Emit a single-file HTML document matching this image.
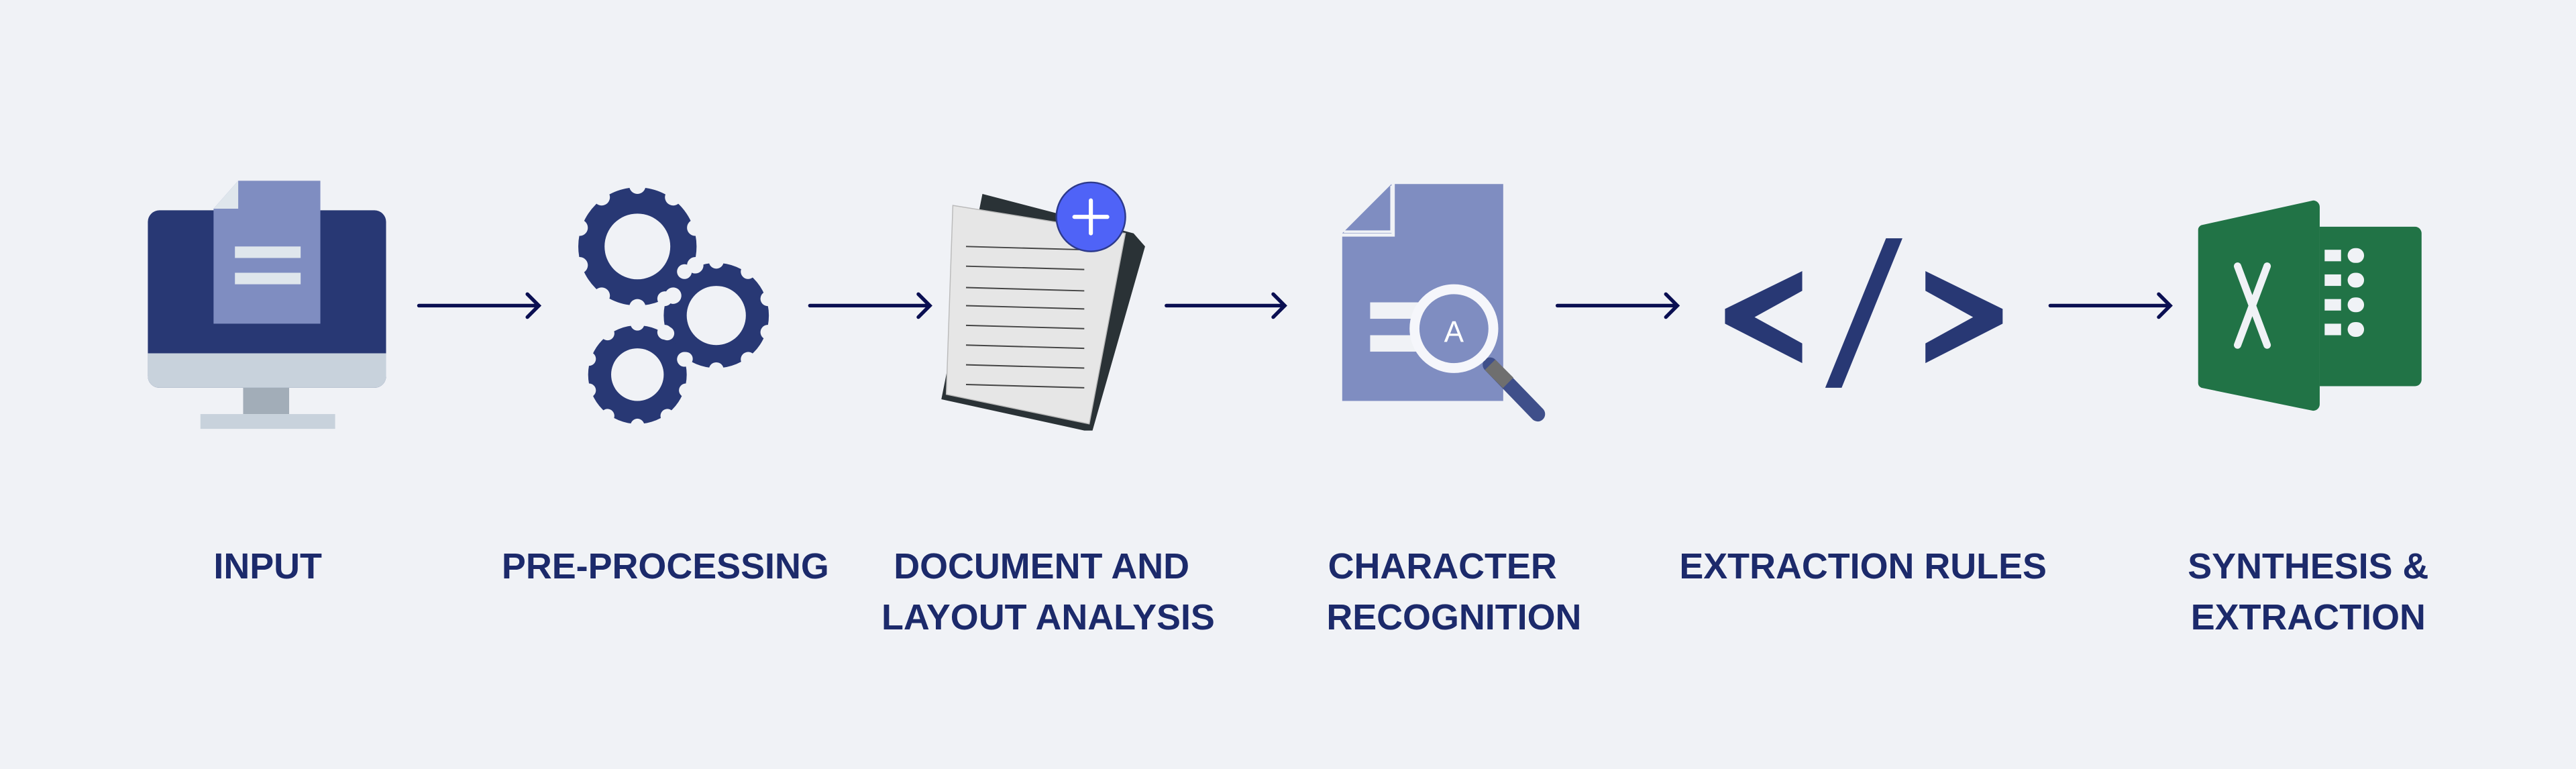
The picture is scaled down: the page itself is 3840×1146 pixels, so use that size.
<!DOCTYPE html>
<html><head><meta charset="utf-8"><style>
html,body{margin:0;padding:0;background:#f0f2f6;}
svg{display:block;}
</style></head><body>
<svg width="3840" height="1146" viewBox="0 0 1568 468" preserveAspectRatio="none" xmlns="http://www.w3.org/2000/svg">
<rect width="1568" height="468" fill="#f0f2f6"/>
<rect x="90" y="128" width="145" height="108" rx="7" fill="#283874"/>
<path d="M90 215 H235 V229 a7 7 0 0 1 -7 7 H97 a7 7 0 0 1 -7 -7 Z" fill="#c8d2dc"/>
<rect x="148" y="236" width="28" height="16" fill="#a2adb8"/>
<rect x="122" y="252" width="82" height="9" fill="#c8d2dc"/>
<path d="M145 110 H195 V197 H130 V127 Z" fill="#7f8dc1"/>
<path d="M145 110 V127 H130 Z" fill="#dfe6ec"/>
<rect x="143" y="150" width="40" height="7" fill="#dfe6ec"/>
<rect x="143" y="166" width="40" height="7" fill="#dfe6ec"/>
<g stroke="#0a0f52" stroke-width="2.2" fill="none" stroke-linecap="round">
<path d="M255 186 H328 M321 179 L328 186 L321 193"/>
<path d="M493 186 H566 M559 179 L566 186 L559 193"/>
<path d="M710 186 H782 M775 179 L782 186 L775 193"/>
<path d="M948 186 H1021 M1014 179 L1021 186 L1014 193"/>
<path d="M1248 186 H1321 M1314 179 L1321 186 L1314 193"/>
</g>
<g fill="#283874">
<circle cx="388" cy="150" r="36"/>
<circle cx="436" cy="192" r="32"/>
<circle cx="388" cy="228" r="30"/>
</g>
<g fill="#f0f2f6">
<g transform="translate(388,150)">
<circle r="20"/>
<g id="n1"><circle cx="0" cy="-37" r="5"/></g>
<use href="#n1" transform="rotate(36)"/><use href="#n1" transform="rotate(72)"/><use href="#n1" transform="rotate(108)"/><use href="#n1" transform="rotate(144)"/><use href="#n1" transform="rotate(180)"/><use href="#n1" transform="rotate(216)"/><use href="#n1" transform="rotate(252)"/><use href="#n1" transform="rotate(288)"/><use href="#n1" transform="rotate(324)"/>
</g>
<g transform="translate(436,192)">
<circle r="18"/>
<g id="n2"><circle cx="0" cy="-33" r="4.5"/></g>
<use href="#n2" transform="rotate(36)"/><use href="#n2" transform="rotate(72)"/><use href="#n2" transform="rotate(108)"/><use href="#n2" transform="rotate(144)"/><use href="#n2" transform="rotate(180)"/><use href="#n2" transform="rotate(216)"/><use href="#n2" transform="rotate(252)"/><use href="#n2" transform="rotate(288)"/><use href="#n2" transform="rotate(324)"/>
</g>
<g transform="translate(388,228)">
<circle r="16"/>
<g id="n3"><circle cx="0" cy="-31" r="4.2"/></g>
<use href="#n3" transform="rotate(36)"/><use href="#n3" transform="rotate(72)"/><use href="#n3" transform="rotate(108)"/><use href="#n3" transform="rotate(144)"/><use href="#n3" transform="rotate(180)"/><use href="#n3" transform="rotate(216)"/><use href="#n3" transform="rotate(252)"/><use href="#n3" transform="rotate(288)"/><use href="#n3" transform="rotate(324)"/>
</g>
</g>
<path d="M598 118 L690 142 L697 150 L665 262 L660 262 L573 243 Z" fill="#2a3236"/>
<path d="M580 125 L685 142 L663 258 L576 240 Z" fill="#e6e6e6" stroke="#bbb" stroke-width="0.6"/>
<g stroke="#444" stroke-width="0.8">
<line x1="588" y1="150" x2="660" y2="152"/><line x1="588" y1="162" x2="660" y2="164"/><line x1="588" y1="175" x2="660" y2="177"/><line x1="588" y1="186" x2="660" y2="188"/><line x1="588" y1="198" x2="660" y2="200"/><line x1="588" y1="210" x2="660" y2="212"/><line x1="588" y1="222" x2="660" y2="224"/><line x1="588" y1="234" x2="660" y2="236"/>
</g>
<circle cx="664" cy="132" r="21" fill="#4f63f7" stroke="#2d3a8c" stroke-width="1"/>
<path d="M654 132 H674 M664 122 V142" stroke="#fff" stroke-width="2.5" stroke-linecap="round"/>
<path d="M849 112 H915 V244 H817 V144 H849 Z" fill="#7f8dc1"/>
<path d="M817 142 L847 112 V142 Z" fill="#7f8dc1"/>
<path d="M847 113 V141 H818" stroke="#f0f2f6" stroke-width="1.5" fill="none"/>
<rect x="834" y="184" width="38" height="10" fill="#f0f2f6"/>
<rect x="834" y="204" width="38" height="10" fill="#f0f2f6"/>
<path d="M907 222 L936 252" stroke="#3f4f8a" stroke-width="9" stroke-linecap="round"/>
<path d="M907 222 L918 233" stroke="#6f6f6f" stroke-width="9"/>
<circle cx="885" cy="200" r="24" fill="#7f8dc1" stroke="#f5f6fb" stroke-width="6"/>
<text x="885" y="208" font-family="Liberation Sans, sans-serif" font-size="18" fill="#fff" text-anchor="middle">A</text>
<path d="M1097 165 V177 L1068 193 L1097 209 V221 L1050 197 V188 Z" fill="#283874"/>
<path d="M1172 165 V177 L1201 193 L1172 209 V221 L1219 197 V188 Z" fill="#283874"/>
<path d="M1148 145 H1158 L1121 236 H1111 Z" fill="#283874"/>
<path d="M1412 138 H1470 a4 4 0 0 1 4 4 V231 a4 4 0 0 1 -4 4 H1412 Z" fill="#217346"/>
<path d="M1340 137 L1408 122 a4 4 0 0 1 4 4 V246 a4 4 0 0 1 -4 4 L1340 236 a3 3 0 0 1 -2 -3 V140 a3 3 0 0 1 2 -3 Z" fill="#217346"/>
<g fill="#f0f2f6">
<rect x="1415" y="152" width="10" height="7"/><rect x="1429" y="151" width="10" height="9" rx="4.5"/>
<rect x="1415" y="167" width="10" height="7"/><rect x="1429" y="166" width="10" height="9" rx="4.5"/>
<rect x="1415" y="182" width="10" height="7"/><rect x="1429" y="181" width="10" height="9" rx="4.5"/>
<rect x="1415" y="197" width="10" height="7"/><rect x="1429" y="196" width="10" height="9" rx="4.5"/>
</g>
<path d="M1362 162 L1380 210 M1380 162 L1362 210" stroke="#f0f2f6" stroke-width="4.5" stroke-linecap="round"/>
<g font-family="Liberation Sans, sans-serif" font-weight="bold" font-size="22" fill="#1c2a6b" text-anchor="middle">
<text x="163" y="352">INPUT</text>
<text x="405" y="352">PRE-PROCESSING</text>
<text x="634" y="352">DOCUMENT AND</text>
<text x="638" y="383">LAYOUT ANALYSIS</text>
<text x="878" y="352">CHARACTER</text>
<text x="885" y="383">RECOGNITION</text>
<text x="1134" y="352">EXTRACTION RULES</text>
<text x="1405" y="352">SYNTHESIS &amp;</text>
<text x="1405" y="383">EXTRACTION</text>
</g>
</svg>
</body></html>
